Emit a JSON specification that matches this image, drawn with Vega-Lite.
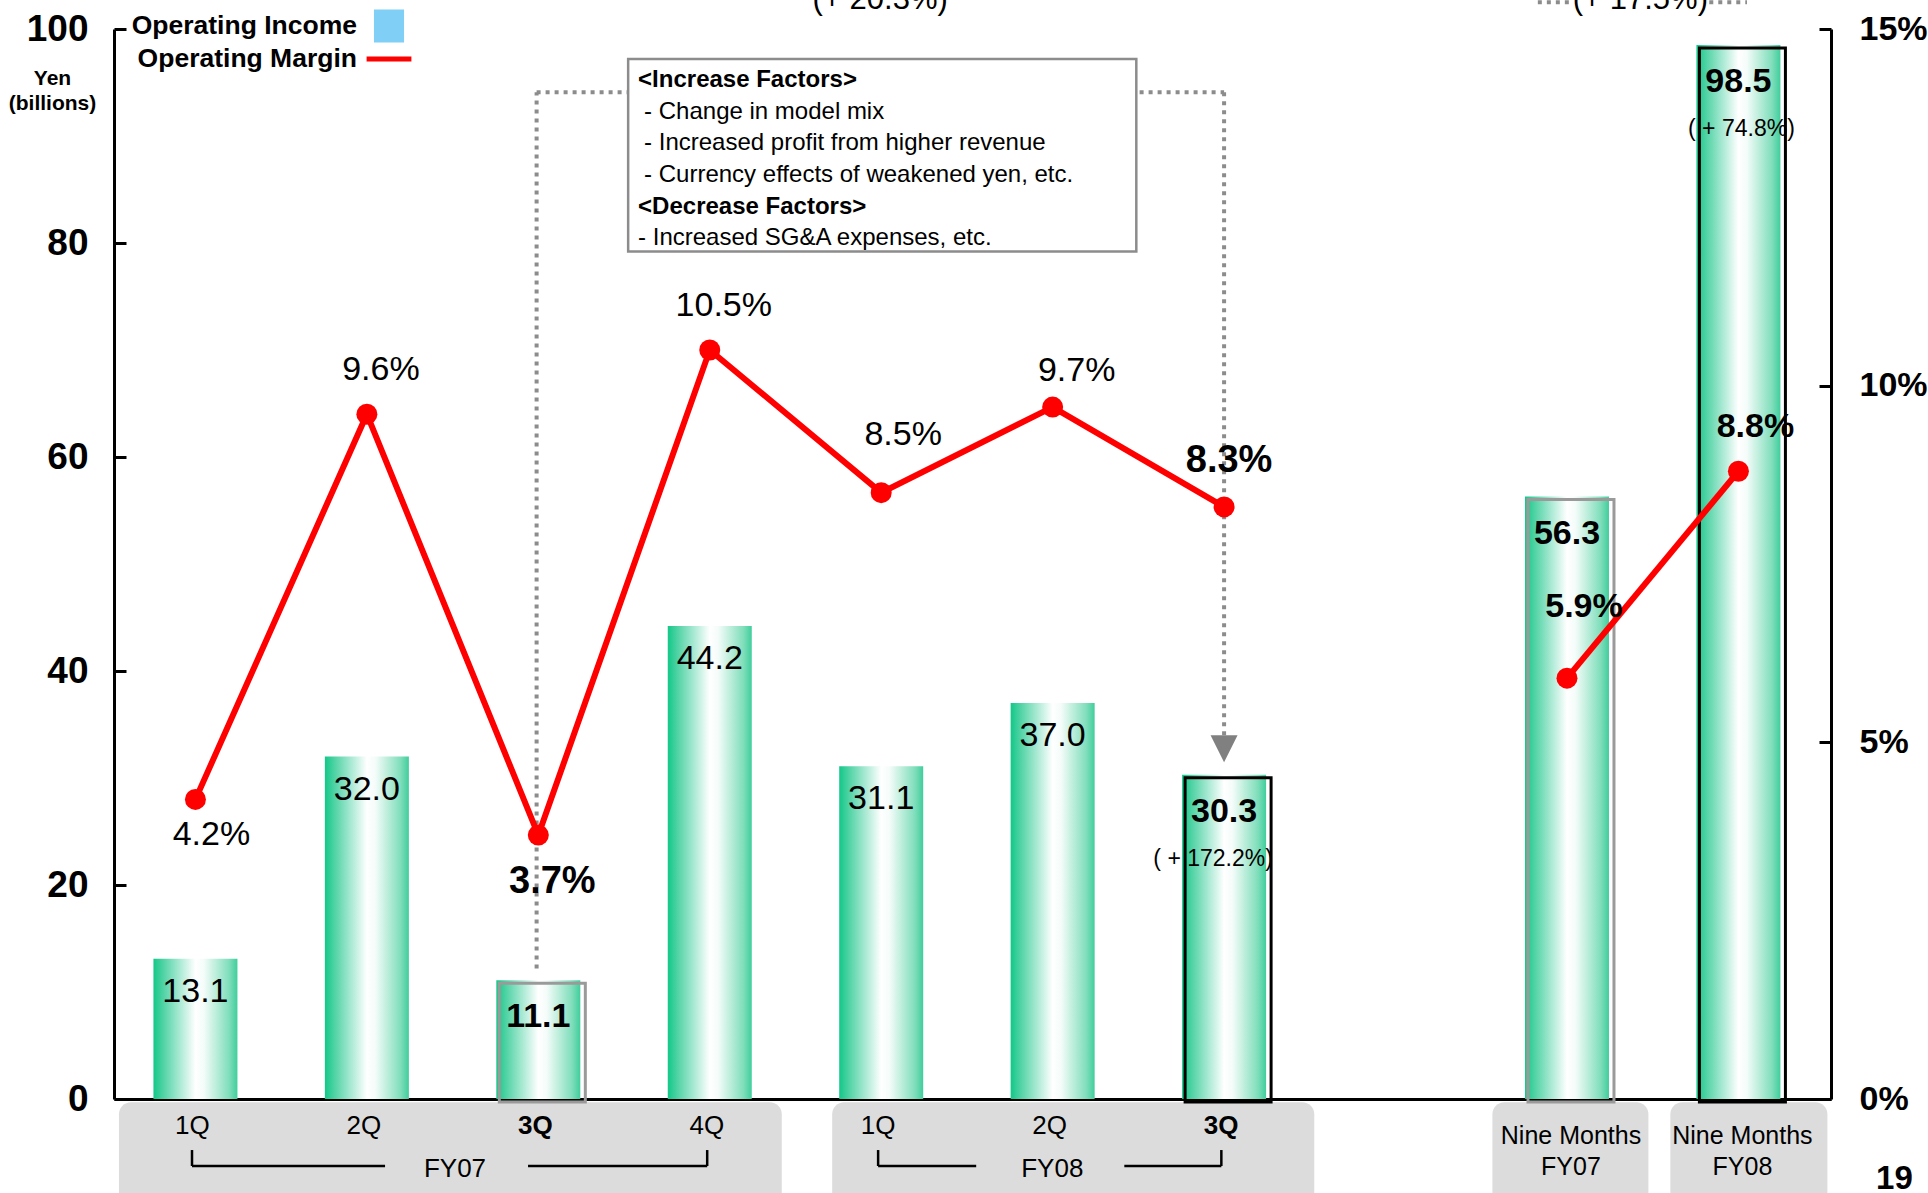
{
  "$schema": "https://vega.github.io/schema/vega-lite/v6.json",
  "width": 1717,
  "height": 1070,
  "autosize": {"type": "none"},
  "padding": {"left": 114, "top": 29, "right": 97, "bottom": 94},
  "background": "white",
  "config": {
    "view": {"stroke": null},
    "font": "Liberation Sans",
    "text": {"font": "Liberation Sans", "color": "black"},
    "legend": {
      "orient": "none", "legendX": 259, "legendY": -19, "direction": "vertical",
      "labelFont": "Liberation Sans", "labelFontSize": 26.5, "labelFontWeight": "bold", "labelColor": "black",
      "labelAlign": "right", "labelOffset": -48, "labelLimit": 600,
      "symbolSize": 1024, "symbolStrokeWidth": 0, "symbolOpacity": 1, "rowPadding": 0, "padding": 0, "title": null
    }
  },
  "datasets": {
    "results": [
      {"pos": 1, "fiscal": "FY07", "kind": "Quarter", "label": "1Q", "income": 13.1, "margin": 0.042},
      {"pos": 2, "fiscal": "FY07", "kind": "Quarter", "label": "2Q", "income": 32.0, "margin": 0.096},
      {"pos": 3, "fiscal": "FY07", "kind": "Quarter", "label": "3Q", "income": 11.1, "margin": 0.037},
      {"pos": 4, "fiscal": "FY07", "kind": "Quarter", "label": "4Q", "income": 44.2, "margin": 0.105},
      {"pos": 5, "fiscal": "FY08", "kind": "Quarter", "label": "1Q", "income": 31.1, "margin": 0.085},
      {"pos": 6, "fiscal": "FY08", "kind": "Quarter", "label": "2Q", "income": 37.0, "margin": 0.097},
      {"pos": 7, "fiscal": "FY08", "kind": "Quarter", "label": "3Q", "income": 30.3, "margin": 0.083, "change": "( + 172.2%)"},
      {"pos": 9, "fiscal": "FY07", "kind": "Nine Months", "label": "Nine Months\nFY07", "income": 56.3, "margin": 0.059},
      {"pos": 10, "fiscal": "FY08", "kind": "Nine Months", "label": "Nine Months\nFY08", "income": 98.5, "margin": 0.088, "change": "( + 74.8%)"}
    ]
  },
  "data": {"name": "results"},
  "layer": [
    {
      "resolve": {"axis": {"x": "independent", "y": "independent"}},
      "layer": [
        {
          "mark": {"type": "bar", "orient": "vertical", "size": 84,
            "fill": {"gradient": "linear", "x1": 0, "y1": 0, "x2": 1, "y2": 0,
              "stops": [{"offset": 0, "color": "#12c889"}, {"offset": 0.12, "color": "#52d3a6"}, {"offset": 0.5, "color": "#ffffff"}, {"offset": 0.6, "color": "#f4fcf9"}, {"offset": 0.9, "color": "#80debb"}, {"offset": 1, "color": "#40ce9c"}]}},
          "encoding": {
            "x": {"field": "pos", "type": "quantitative", "scale": {"domain": [0.525, 10.54], "nice": false, "zero": false, "padding": 0},
                  "axis": {"orient": "bottom", "labels": false, "ticks": false, "grid": false, "title": null, "domain": true, "domainColor": "black", "domainWidth": 3}},
            "y": {"field": "income", "type": "quantitative", "scale": {"domain": [0, 100], "nice": false, "padding": 0},
                  "axis": {"orient": "left", "values": [0, 20, 40, 60, 80, 100], "grid": false,
                           "domainColor": "black", "domainWidth": 3, "tickColor": "black", "tickWidth": 3, "tickSize": -12,
                           "labelFont": "Liberation Sans", "labelFontSize": 37, "labelFontWeight": "bold", "labelColor": "black", "labelPadding": 38,
                           "title": ["Yen", "(billions)"], "titleFont": "Liberation Sans", "titleFontSize": 21, "titleFontWeight": "bold", "titleColor": "black",
                           "titleAngle": 0, "titleAlign": "center", "titleBaseline": "top", "titleX": -62, "titleY": 38, "titleLineHeight": 25}}
          }
        },
        {"data": {"values": [{}]}, "mark": {"type": "rect", "fill": "#dcdcdc", "cornerRadius": 12},
         "encoding": {"x": {"datum": 0.554, "type": "quantitative", "scale": {"domain": [0.525, 10.54], "nice": false, "zero": false, "padding": 0}, "axis": null},
                      "x2": {"datum": 4.42}, "y": {"datum": -0.3, "type": "quantitative", "scale": {"domain": [0, 100], "nice": false, "padding": 0}, "axis": null}, "y2": {"datum": -12}}},
        {"data": {"values": [{}]}, "mark": {"type": "rect", "fill": "#dcdcdc", "cornerRadius": 12},
         "encoding": {"x": {"datum": 4.714, "type": "quantitative", "scale": {"domain": [0.525, 10.54], "nice": false, "zero": false, "padding": 0}, "axis": null},
                      "x2": {"datum": 7.526}, "y": {"datum": -0.3, "type": "quantitative", "scale": {"domain": [0, 100], "nice": false, "padding": 0}, "axis": null}, "y2": {"datum": -12}}},
        {"data": {"values": [{}]}, "mark": {"type": "rect", "fill": "#dcdcdc", "cornerRadius": 12},
         "encoding": {"x": {"datum": 8.565, "type": "quantitative", "scale": {"domain": [0.525, 10.54], "nice": false, "zero": false, "padding": 0}, "axis": null},
                      "x2": {"datum": 9.475}, "y": {"datum": -0.3, "type": "quantitative", "scale": {"domain": [0, 100], "nice": false, "padding": 0}, "axis": null}, "y2": {"datum": -12}}},
        {"data": {"values": [{}]}, "mark": {"type": "rect", "fill": "#dcdcdc", "cornerRadius": 12},
         "encoding": {"x": {"datum": 9.603, "type": "quantitative", "scale": {"domain": [0.525, 10.54], "nice": false, "zero": false, "padding": 0}, "axis": null},
                      "x2": {"datum": 10.519}, "y": {"datum": -0.3, "type": "quantitative", "scale": {"domain": [0, 100], "nice": false, "padding": 0}, "axis": null}, "y2": {"datum": -12}}},
        {
          "transform": [{"filter": "datum.label == '3Q' || datum.kind == 'Nine Months'"}],
          "mark": {"type": "bar", "orient": "vertical", "size": 86, "xOffset": 4, "yOffset": 3, "fillOpacity": 0, "strokeWidth": 3},
          "encoding": {
            "x": {"field": "pos", "type": "quantitative", "scale": {"domain": [0.525, 10.54], "nice": false, "zero": false, "padding": 0}, "axis": null},
            "y": {"field": "income", "type": "quantitative", "scale": {"domain": [0, 100], "nice": false, "padding": 0}, "axis": null},
            "stroke": {"condition": {"test": "datum.fiscal == 'FY08'", "value": "#000000"}, "value": "#9a9a9a"}
          }
        },
        {
          "transform": [{"filter": "!(datum.label == '3Q' || datum.kind == 'Nine Months')"}],
          "mark": {"type": "text", "fontSize": 34, "dy": 33, "baseline": "middle", "align": "center"},
          "encoding": {
            "x": {"field": "pos", "type": "quantitative", "scale": {"domain": [0.525, 10.54], "nice": false, "zero": false, "padding": 0}, "axis": null},
            "y": {"field": "income", "type": "quantitative", "scale": {"domain": [0, 100], "nice": false, "padding": 0}, "axis": null},
            "text": {"field": "income", "type": "quantitative", "format": ".1f"}
          }
        },
        {
          "transform": [{"filter": "datum.label == '3Q' || datum.kind == 'Nine Months'"}],
          "mark": {"type": "text", "fontSize": 34, "fontWeight": "bold", "dy": 37, "baseline": "middle", "align": "center"},
          "encoding": {
            "x": {"field": "pos", "type": "quantitative", "scale": {"domain": [0.525, 10.54], "nice": false, "zero": false, "padding": 0}, "axis": null},
            "y": {"field": "income", "type": "quantitative", "scale": {"domain": [0, 100], "nice": false, "padding": 0}, "axis": null},
            "text": {"field": "income", "type": "quantitative", "format": ".1f"}
          }
        },
        {
          "transform": [{"filter": "datum.pos == 7"}],
          "mark": {"type": "text", "fontSize": 23, "dy": 84, "dx": -11, "baseline": "middle", "align": "center"},
          "encoding": {
            "x": {"field": "pos", "type": "quantitative", "scale": {"domain": [0.525, 10.54], "nice": false, "zero": false, "padding": 0}, "axis": null},
            "y": {"field": "income", "type": "quantitative", "scale": {"domain": [0, 100], "nice": false, "padding": 0}, "axis": null},
            "text": {"field": "change", "type": "nominal"}
          }
        },
        {
          "transform": [{"filter": "datum.pos == 10"}],
          "mark": {"type": "text", "fontSize": 23, "dy": 84, "dx": 3, "baseline": "middle", "align": "center"},
          "encoding": {
            "x": {"field": "pos", "type": "quantitative", "scale": {"domain": [0.525, 10.54], "nice": false, "zero": false, "padding": 0}, "axis": null},
            "y": {"field": "income", "type": "quantitative", "scale": {"domain": [0, 100], "nice": false, "padding": 0}, "axis": null},
            "text": {"field": "change", "type": "nominal"}
          }
        },
        {
          "transform": [{"filter": "datum.kind == 'Quarter' && datum.label != '3Q'"}],
          "mark": {"type": "text", "fontSize": 26, "dx": -3, "baseline": "middle", "align": "center"},
          "encoding": {
            "x": {"field": "pos", "type": "quantitative", "scale": {"domain": [0.525, 10.54], "nice": false, "zero": false, "padding": 0}, "axis": null},
            "y": {"datum": -2.57, "type": "quantitative", "scale": {"domain": [0, 100], "nice": false, "padding": 0}, "axis": null},
            "text": {"field": "label", "type": "nominal"}
          }
        },
        {
          "transform": [{"filter": "datum.kind == 'Quarter' && datum.label == '3Q'"}],
          "mark": {"type": "text", "fontSize": 26, "fontWeight": "bold", "dx": -3, "baseline": "middle", "align": "center"},
          "encoding": {
            "x": {"field": "pos", "type": "quantitative", "scale": {"domain": [0.525, 10.54], "nice": false, "zero": false, "padding": 0}, "axis": null},
            "y": {"datum": -2.57, "type": "quantitative", "scale": {"domain": [0, 100], "nice": false, "padding": 0}, "axis": null},
            "text": {"field": "label", "type": "nominal"}
          }
        },
        {
          "transform": [{"filter": "datum.kind == 'Nine Months'"}],
          "mark": {"type": "text", "fontSize": 25, "dx": 4, "baseline": "top", "align": "center", "lineBreak": "\n", "lineHeight": 31},
          "encoding": {
            "x": {"field": "pos", "type": "quantitative", "scale": {"domain": [0.525, 10.54], "nice": false, "zero": false, "padding": 0}, "axis": null},
            "y": {"datum": -2.34, "type": "quantitative", "scale": {"domain": [0, 100], "nice": false, "padding": 0}, "axis": null},
            "text": {"field": "label", "type": "nominal"}
          }
        },
        {"data": {"values": [{}]}, "mark": {"type": "text", "text": "FY07", "fontSize": 26, "baseline": "middle", "align": "center"},
         "encoding": {"x": {"datum": 2.514, "type": "quantitative", "scale": {"domain": [0.525, 10.54], "nice": false, "zero": false, "padding": 0}, "axis": null},
                      "y": {"datum": -6.5, "type": "quantitative", "scale": {"domain": [0, 100], "nice": false, "padding": 0}, "axis": null}}},
        {"data": {"values": [{}]}, "mark": {"type": "text", "text": "FY08", "fontSize": 26, "baseline": "middle", "align": "center"},
         "encoding": {"x": {"datum": 5.998, "type": "quantitative", "scale": {"domain": [0.525, 10.54], "nice": false, "zero": false, "padding": 0}, "axis": null},
                      "y": {"datum": -6.5, "type": "quantitative", "scale": {"domain": [0, 100], "nice": false, "padding": 0}, "axis": null}}},
        {"data": {"values": [{}]}, "mark": {"type": "text", "text": "19", "fontSize": 33, "fontWeight": "bold", "baseline": "middle", "align": "center"},
         "encoding": {"x": {"datum": 10.91, "type": "quantitative", "scale": {"domain": [0.525, 10.54], "nice": false, "zero": false, "padding": 0}, "axis": null},
                      "y": {"datum": -7.48, "type": "quantitative", "scale": {"domain": [0, 100], "nice": false, "padding": 0}, "axis": null}}},
        {"data": {"values": [{}]}, "mark": {"type": "rule", "color": "black", "strokeWidth": 2.5},
         "encoding": {"x": {"datum": 0.98, "type": "quantitative", "scale": {"domain": [0.525, 10.54], "nice": false, "zero": false, "padding": 0}, "axis": null},
                      "y": {"datum": -4.77, "type": "quantitative", "scale": {"domain": [0, 100], "nice": false, "padding": 0}, "axis": null}, "y2": {"datum": -6.26}}},
        {"data": {"values": [{}]}, "mark": {"type": "rule", "color": "black", "strokeWidth": 2.5},
         "encoding": {"x": {"datum": 0.98, "type": "quantitative", "scale": {"domain": [0.525, 10.54], "nice": false, "zero": false, "padding": 0}, "axis": null}, "x2": {"datum": 2.106},
                      "y": {"datum": -6.26, "type": "quantitative", "scale": {"domain": [0, 100], "nice": false, "padding": 0}, "axis": null}}},
        {"data": {"values": [{}]}, "mark": {"type": "rule", "color": "black", "strokeWidth": 2.5},
         "encoding": {"x": {"datum": 2.94, "type": "quantitative", "scale": {"domain": [0.525, 10.54], "nice": false, "zero": false, "padding": 0}, "axis": null}, "x2": {"datum": 3.985},
                      "y": {"datum": -6.26, "type": "quantitative", "scale": {"domain": [0, 100], "nice": false, "padding": 0}, "axis": null}}},
        {"data": {"values": [{}]}, "mark": {"type": "rule", "color": "black", "strokeWidth": 2.5},
         "encoding": {"x": {"datum": 3.985, "type": "quantitative", "scale": {"domain": [0.525, 10.54], "nice": false, "zero": false, "padding": 0}, "axis": null},
                      "y": {"datum": -4.77, "type": "quantitative", "scale": {"domain": [0, 100], "nice": false, "padding": 0}, "axis": null}, "y2": {"datum": -6.26}}},
        {"data": {"values": [{}]}, "mark": {"type": "rule", "color": "black", "strokeWidth": 2.5},
         "encoding": {"x": {"datum": 4.982, "type": "quantitative", "scale": {"domain": [0.525, 10.54], "nice": false, "zero": false, "padding": 0}, "axis": null},
                      "y": {"datum": -4.77, "type": "quantitative", "scale": {"domain": [0, 100], "nice": false, "padding": 0}, "axis": null}, "y2": {"datum": -6.26}}},
        {"data": {"values": [{}]}, "mark": {"type": "rule", "color": "black", "strokeWidth": 2.5},
         "encoding": {"x": {"datum": 4.982, "type": "quantitative", "scale": {"domain": [0.525, 10.54], "nice": false, "zero": false, "padding": 0}, "axis": null}, "x2": {"datum": 5.554},
                      "y": {"datum": -6.26, "type": "quantitative", "scale": {"domain": [0, 100], "nice": false, "padding": 0}, "axis": null}}},
        {"data": {"values": [{}]}, "mark": {"type": "rule", "color": "black", "strokeWidth": 2.5},
         "encoding": {"x": {"datum": 6.418, "type": "quantitative", "scale": {"domain": [0.525, 10.54], "nice": false, "zero": false, "padding": 0}, "axis": null}, "x2": {"datum": 6.984},
                      "y": {"datum": -6.26, "type": "quantitative", "scale": {"domain": [0, 100], "nice": false, "padding": 0}, "axis": null}}},
        {"data": {"values": [{}]}, "mark": {"type": "rule", "color": "black", "strokeWidth": 2.5},
         "encoding": {"x": {"datum": 6.984, "type": "quantitative", "scale": {"domain": [0.525, 10.54], "nice": false, "zero": false, "padding": 0}, "axis": null},
                      "y": {"datum": -4.77, "type": "quantitative", "scale": {"domain": [0, 100], "nice": false, "padding": 0}, "axis": null}, "y2": {"datum": -6.26}}},
        {"data": {"values": [{}]}, "mark": {"type": "rule", "color": "#8c8c8c", "strokeWidth": 4, "strokeDash": [4, 5]},
         "encoding": {"x": {"datum": 2.99, "type": "quantitative", "scale": {"domain": [0.525, 10.54], "nice": false, "zero": false, "padding": 0}, "axis": null},
                      "y": {"datum": 12.2, "type": "quantitative", "scale": {"domain": [0, 100], "nice": false, "padding": 0}, "axis": null}, "y2": {"datum": 94.1}}},
        {"data": {"values": [{}]}, "mark": {"type": "rule", "color": "#8c8c8c", "strokeWidth": 4, "strokeDash": [4, 5]},
         "encoding": {"x": {"datum": 2.99, "type": "quantitative", "scale": {"domain": [0.525, 10.54], "nice": false, "zero": false, "padding": 0}, "axis": null}, "x2": {"datum": 7.0},
                      "y": {"datum": 94.1, "type": "quantitative", "scale": {"domain": [0, 100], "nice": false, "padding": 0}, "axis": null}}},
        {"data": {"values": [{}]}, "mark": {"type": "rule", "color": "#8c8c8c", "strokeWidth": 4, "strokeDash": [4, 5]},
         "encoding": {"x": {"datum": 7.0, "type": "quantitative", "scale": {"domain": [0.525, 10.54], "nice": false, "zero": false, "padding": 0}, "axis": null},
                      "y": {"datum": 94.1, "type": "quantitative", "scale": {"domain": [0, 100], "nice": false, "padding": 0}, "axis": null}, "y2": {"datum": 34.0}}},
        {"data": {"values": [{}]}, "mark": {"type": "point", "shape": "M-1,-1L1,-1L0,1Z", "size": 729, "filled": true, "color": "#808080", "opacity": 1},
         "encoding": {"x": {"datum": 7.0, "type": "quantitative", "scale": {"domain": [0.525, 10.54], "nice": false, "zero": false, "padding": 0}, "axis": null},
                      "y": {"datum": 32.74, "type": "quantitative", "scale": {"domain": [0, 100], "nice": false, "padding": 0}, "axis": null}}},
        {"data": {"values": [{}]}, "mark": {"type": "rect", "fill": "white", "stroke": "#8c8c8c", "strokeWidth": 2.5},
         "encoding": {"x": {"datum": 3.524, "type": "quantitative", "scale": {"domain": [0.525, 10.54], "nice": false, "zero": false, "padding": 0}, "axis": null}, "x2": {"datum": 6.488},
                      "y": {"datum": 97.2, "type": "quantitative", "scale": {"domain": [0, 100], "nice": false, "padding": 0}, "axis": null}, "y2": {"datum": 79.2}}},
        {"data": {"values": [{}]}, "mark": {"type": "text", "text": "<Increase Factors>", "fontSize": 24, "fontWeight": "bold", "baseline": "middle", "align": "left"},
         "encoding": {"x": {"datum": 3.582, "type": "quantitative", "scale": {"domain": [0.525, 10.54], "nice": false, "zero": false, "padding": 0}, "axis": null},
                      "y": {"datum": 95.24, "type": "quantitative", "scale": {"domain": [0, 100], "nice": false, "padding": 0}, "axis": null}}},
        {"data": {"values": [{}]}, "mark": {"type": "text", "text": "- Change in model mix", "fontSize": 24, "dx": 6, "baseline": "middle", "align": "left"},
         "encoding": {"x": {"datum": 3.582, "type": "quantitative", "scale": {"domain": [0.525, 10.54], "nice": false, "zero": false, "padding": 0}, "axis": null},
                      "y": {"datum": 92.25, "type": "quantitative", "scale": {"domain": [0, 100], "nice": false, "padding": 0}, "axis": null}}},
        {"data": {"values": [{}]}, "mark": {"type": "text", "text": "- Increased profit from higher revenue", "fontSize": 24, "dx": 6, "baseline": "middle", "align": "left"},
         "encoding": {"x": {"datum": 3.582, "type": "quantitative", "scale": {"domain": [0.525, 10.54], "nice": false, "zero": false, "padding": 0}, "axis": null},
                      "y": {"datum": 89.36, "type": "quantitative", "scale": {"domain": [0, 100], "nice": false, "padding": 0}, "axis": null}}},
        {"data": {"values": [{}]}, "mark": {"type": "text", "text": "- Currency effects of weakened yen, etc.", "fontSize": 24, "dx": 6, "baseline": "middle", "align": "left"},
         "encoding": {"x": {"datum": 3.582, "type": "quantitative", "scale": {"domain": [0.525, 10.54], "nice": false, "zero": false, "padding": 0}, "axis": null},
                      "y": {"datum": 86.37, "type": "quantitative", "scale": {"domain": [0, 100], "nice": false, "padding": 0}, "axis": null}}},
        {"data": {"values": [{}]}, "mark": {"type": "text", "text": "<Decrease Factors>", "fontSize": 24, "fontWeight": "bold", "baseline": "middle", "align": "left"},
         "encoding": {"x": {"datum": 3.582, "type": "quantitative", "scale": {"domain": [0.525, 10.54], "nice": false, "zero": false, "padding": 0}, "axis": null},
                      "y": {"datum": 83.39, "type": "quantitative", "scale": {"domain": [0, 100], "nice": false, "padding": 0}, "axis": null}}},
        {"data": {"values": [{}]}, "mark": {"type": "text", "text": "- Increased SG&A expenses, etc.", "fontSize": 24, "baseline": "middle", "align": "left"},
         "encoding": {"x": {"datum": 3.582, "type": "quantitative", "scale": {"domain": [0.525, 10.54], "nice": false, "zero": false, "padding": 0}, "axis": null},
                      "y": {"datum": 80.51, "type": "quantitative", "scale": {"domain": [0, 100], "nice": false, "padding": 0}, "axis": null}}},
        {"data": {"values": [{}]}, "mark": {"type": "text", "text": "(+ 20.3%)", "fontSize": 31, "baseline": "middle", "align": "center"},
         "encoding": {"x": {"datum": 4.994, "type": "quantitative", "scale": {"domain": [0.525, 10.54], "nice": false, "zero": false, "padding": 0}, "axis": null},
                      "y": {"datum": 102.7, "type": "quantitative", "scale": {"domain": [0, 100], "nice": false, "padding": 0}, "axis": null}}},
        {"data": {"values": [{}]}, "mark": {"type": "text", "text": "(+ 17.5%)", "fontSize": 31, "baseline": "middle", "align": "center"},
         "encoding": {"x": {"datum": 9.428, "type": "quantitative", "scale": {"domain": [0.525, 10.54], "nice": false, "zero": false, "padding": 0}, "axis": null},
                      "y": {"datum": 102.7, "type": "quantitative", "scale": {"domain": [0, 100], "nice": false, "padding": 0}, "axis": null}}},
        {"data": {"values": [{}]}, "mark": {"type": "rule", "color": "#8c8c8c", "strokeWidth": 4, "strokeDash": [4, 5]},
         "encoding": {"x": {"datum": 8.83, "type": "quantitative", "scale": {"domain": [0.525, 10.54], "nice": false, "zero": false, "padding": 0}, "axis": null}, "x2": {"datum": 9.04},
                      "y": {"datum": 102.5, "type": "quantitative", "scale": {"domain": [0, 100], "nice": false, "padding": 0}, "axis": null}}},
        {"data": {"values": [{}]}, "mark": {"type": "rule", "color": "#8c8c8c", "strokeWidth": 4, "strokeDash": [4, 5]},
         "encoding": {"x": {"datum": 9.83, "type": "quantitative", "scale": {"domain": [0.525, 10.54], "nice": false, "zero": false, "padding": 0}, "axis": null}, "x2": {"datum": 10.05},
                      "y": {"datum": 102.5, "type": "quantitative", "scale": {"domain": [0, 100], "nice": false, "padding": 0}, "axis": null}}}
      ]
    },
    {
      "resolve": {"axis": {"x": "independent", "y": "independent"}},
      "layer": [
        {
          "mark": {"type": "line", "color": "#ff0000", "strokeWidth": 6},
          "encoding": {
            "x": {"field": "pos", "type": "quantitative", "scale": {"domain": [0.525, 10.54], "nice": false, "zero": false, "padding": 0}, "axis": null},
            "y": {"field": "margin", "type": "quantitative", "scale": {"domain": [0, 0.15], "nice": false, "padding": 0},
                  "axis": {"orient": "right", "values": [0, 0.05, 0.1, 0.15], "format": ".0%", "grid": false,
                           "domainColor": "black", "domainWidth": 3, "tickColor": "black", "tickWidth": 3, "tickSize": -12,
                           "labelFont": "Liberation Sans", "labelFontSize": 34, "labelFontWeight": "bold", "labelColor": "black", "labelPadding": 40, "title": null}},
            "detail": {"field": "kind", "type": "nominal"}
          }
        },
        {
          "mark": {"type": "point", "shape": "circle", "filled": true, "size": 441, "color": "#ff0000", "opacity": 1},
          "encoding": {
            "x": {"field": "pos", "type": "quantitative", "scale": {"domain": [0.525, 10.54], "nice": false, "zero": false, "padding": 0}, "axis": null},
            "y": {"field": "margin", "type": "quantitative", "scale": {"domain": [0, 0.15], "nice": false, "padding": 0}, "axis": null}
          }
        },
        {
          "transform": [{"filter": "datum.pos == 1"}],
          "mark": {"type": "text", "fontSize": 34, "dy": 36, "dx": 16, "baseline": "middle", "align": "center"},
          "encoding": {
            "x": {"field": "pos", "type": "quantitative", "scale": {"domain": [0.525, 10.54], "nice": false, "zero": false, "padding": 0}, "axis": null},
            "y": {"field": "margin", "type": "quantitative", "scale": {"domain": [0, 0.15], "nice": false, "padding": 0}, "axis": null},
            "text": {"field": "margin", "type": "quantitative", "format": ".1%"}
          }
        },
        {
          "transform": [{"filter": "datum.pos == 3"}],
          "mark": {"type": "text", "fontSize": 38, "fontWeight": "bold", "dy": 47, "dx": 14, "baseline": "middle", "align": "center"},
          "encoding": {
            "x": {"field": "pos", "type": "quantitative", "scale": {"domain": [0.525, 10.54], "nice": false, "zero": false, "padding": 0}, "axis": null},
            "y": {"field": "margin", "type": "quantitative", "scale": {"domain": [0, 0.15], "nice": false, "padding": 0}, "axis": null},
            "text": {"field": "margin", "type": "quantitative", "format": ".1%"}
          }
        },
        {
          "transform": [{"filter": "datum.pos == 2 || datum.pos == 4"}],
          "mark": {"type": "text", "fontSize": 34, "dy": -44, "dx": 14, "baseline": "middle", "align": "center"},
          "encoding": {
            "x": {"field": "pos", "type": "quantitative", "scale": {"domain": [0.525, 10.54], "nice": false, "zero": false, "padding": 0}, "axis": null},
            "y": {"field": "margin", "type": "quantitative", "scale": {"domain": [0, 0.15], "nice": false, "padding": 0}, "axis": null},
            "text": {"field": "margin", "type": "quantitative", "format": ".1%"}
          }
        },
        {
          "transform": [{"filter": "datum.pos == 5"}],
          "mark": {"type": "text", "fontSize": 34, "dy": -58, "dx": 22, "baseline": "middle", "align": "center"},
          "encoding": {
            "x": {"field": "pos", "type": "quantitative", "scale": {"domain": [0.525, 10.54], "nice": false, "zero": false, "padding": 0}, "axis": null},
            "y": {"field": "margin", "type": "quantitative", "scale": {"domain": [0, 0.15], "nice": false, "padding": 0}, "axis": null},
            "text": {"field": "margin", "type": "quantitative", "format": ".1%"}
          }
        },
        {
          "transform": [{"filter": "datum.pos == 6"}],
          "mark": {"type": "text", "fontSize": 34, "dy": -36, "dx": 24, "baseline": "middle", "align": "center"},
          "encoding": {
            "x": {"field": "pos", "type": "quantitative", "scale": {"domain": [0.525, 10.54], "nice": false, "zero": false, "padding": 0}, "axis": null},
            "y": {"field": "margin", "type": "quantitative", "scale": {"domain": [0, 0.15], "nice": false, "padding": 0}, "axis": null},
            "text": {"field": "margin", "type": "quantitative", "format": ".1%"}
          }
        },
        {
          "transform": [{"filter": "datum.pos == 7"}],
          "mark": {"type": "text", "fontSize": 38, "fontWeight": "bold", "dy": -46, "dx": 5, "baseline": "middle", "align": "center"},
          "encoding": {
            "x": {"field": "pos", "type": "quantitative", "scale": {"domain": [0.525, 10.54], "nice": false, "zero": false, "padding": 0}, "axis": null},
            "y": {"field": "margin", "type": "quantitative", "scale": {"domain": [0, 0.15], "nice": false, "padding": 0}, "axis": null},
            "text": {"field": "margin", "type": "quantitative", "format": ".1%"}
          }
        },
        {
          "transform": [{"filter": "datum.pos == 9"}],
          "mark": {"type": "text", "fontSize": 34, "fontWeight": "bold", "dy": -71, "dx": 17, "baseline": "middle", "align": "center"},
          "encoding": {
            "x": {"field": "pos", "type": "quantitative", "scale": {"domain": [0.525, 10.54], "nice": false, "zero": false, "padding": 0}, "axis": null},
            "y": {"field": "margin", "type": "quantitative", "scale": {"domain": [0, 0.15], "nice": false, "padding": 0}, "axis": null},
            "text": {"field": "margin", "type": "quantitative", "format": ".1%"}
          }
        },
        {
          "transform": [{"filter": "datum.pos == 10"}],
          "mark": {"type": "text", "fontSize": 34, "fontWeight": "bold", "dy": -44, "dx": 17, "baseline": "middle", "align": "center"},
          "encoding": {
            "x": {"field": "pos", "type": "quantitative", "scale": {"domain": [0.525, 10.54], "nice": false, "zero": false, "padding": 0}, "axis": null},
            "y": {"field": "margin", "type": "quantitative", "scale": {"domain": [0, 0.15], "nice": false, "padding": 0}, "axis": null},
            "text": {"field": "margin", "type": "quantitative", "format": ".1%"}
          }
        },
        {
          "data": {"values": [{"series": "Operating Income"}, {"series": "Operating Margin"}]},
          "mark": {"type": "point", "filled": true, "opacity": 0},
          "encoding": {
            "color": {"field": "series", "type": "nominal", "scale": {"domain": ["Operating Income", "Operating Margin"], "range": ["#7fcff7", "#ff0000"]}, "legend": {"title": null, "symbolOpacity": 1}},
            "shape": {"field": "series", "type": "nominal", "scale": {"domain": ["Operating Income", "Operating Margin"], "range": ["M-0.94,-1.03H0.94V1.03H-0.94Z", "M-1.4,-0.16H1.4V0.16H-1.4Z"]}, "legend": {"title": null, "symbolOpacity": 1}}
          }
        }
      ]
    }
  ],
  "resolve": {"scale": {"y": "independent"}, "axis": {"x": "independent", "y": "independent"}}
}
